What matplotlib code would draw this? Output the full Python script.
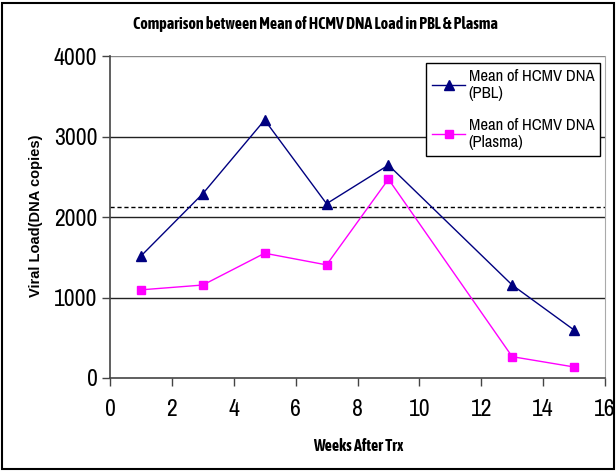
import matplotlib
matplotlib.use("Agg")
import matplotlib.pyplot as plt
from matplotlib.patches import Rectangle

weeks = [1, 3, 5, 7, 9, 13, 15]
pbl = [1515, 2290, 3205, 2165, 2645, 1155, 596]
plasma = [1095, 1155, 1550, 1405, 2470, 265, 137]
ref_line = 2130
xticks = [0, 2, 4, 6, 8, 10, 12, 14, 16]
yticks = [0, 1000, 2000, 3000, 4000]

reg = ['Archivo Narrow', 'Liberation Sans', 'DejaVu Sans']
bold = ['Asap Condensed', 'Liberation Sans', 'DejaVu Sans']
plt.rcParams['font.family'] = reg

fig = plt.figure(figsize=(6.16, 4.71), dpi=100)
ax = fig.add_axes([110/616, 1 - 378/471, (605-110)/616, (378-56)/471])

for y in yticks[1:]:
    ax.axhline(y, color='#222222' if y != 4000 else '#888888', lw=1.0, zorder=1)
ax.axhline(ref_line, color='black', lw=1.0, ls=(0, (3, 2)), zorder=1)

ax.plot(weeks, pbl, color='#000080', lw=1.0, marker='^', ms=7, mfc='#000080', mec='#000080',
        label='Mean of HCMV DNA\n(PBL)', zorder=3)
ax.plot(weeks, plasma, color='#FF00FF', lw=1.0, marker='s', ms=6, mfc='#FF00FF', mec='#FF00FF',
        label='Mean of HCMV DNA\n(Plasma)', zorder=3)

ax.set_xlim(0, 16)
ax.set_ylim(0, 4000)
ax.set_xticks(xticks)
ax.set_yticks(yticks)
ax.tick_params(axis='both', labelsize=17, length=6, width=1, color='#444444', direction='out')
ax.tick_params(axis='x', pad=9)
ax.tick_params(axis='y', pad=3)
ax.spines['top'].set_visible(False)
ax.spines['right'].set_color('#aaaaaa')
ax.spines['left'].set_color('#444444')
ax.spines['bottom'].set_color('#444444')
ax.spines['left'].set_linewidth(1.2)
ax.spines['bottom'].set_linewidth(1.2)

fig.text(315/616, 1 - 24/471, 'Comparison between Mean of HCMV DNA Load in PBL & Plasma',
         ha='center', va='center', fontsize=11.5, fontweight='bold', family=bold)
fig.text(358/616, 1 - 446/471, 'Weeks After Trx', ha='center', va='center', fontsize=11.5,
         fontweight='bold', family=bold)
fig.text(36/616, 1 - 216/471, 'Viral Load(DNA copies)', ha='center', va='center', fontsize=10.5,
         fontweight='bold', rotation=90, family=['Liberation Sans', 'DejaVu Sans'])

leg = ax.legend(loc='upper right', bbox_to_anchor=(600/616, 1 - 63/471), bbox_transform=fig.transFigure,
                fontsize=12, frameon=True, fancybox=False, edgecolor='black', framealpha=1,
                handlelength=2.0, handletextpad=0.2, borderpad=0.35, labelspacing=1.0, borderaxespad=0)
leg.get_frame().set_linewidth(1.0)

fig.patches.append(Rectangle((2/616, 2/471), 612/616, 466/471, transform=fig.transFigure,
                             fill=False, edgecolor='black', lw=1.5))

fig.savefig('out.png', dpi=100)
